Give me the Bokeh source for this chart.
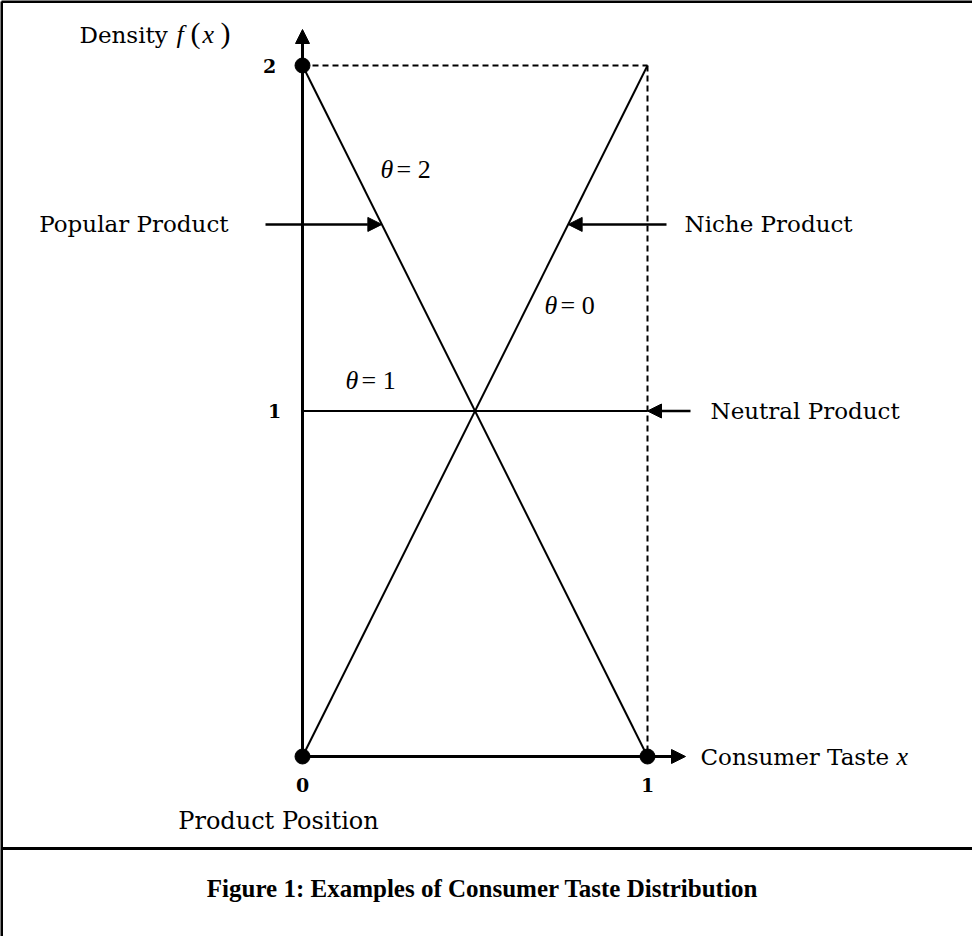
from bokeh.plotting import figure
from bokeh.models import Range1d, Arrow, NormalHead, ColumnDataSource
from bokeh.core.properties import value
from bokeh.embed import file_html
from bokeh.resources import INLINE

# ---------------- data ----------------
thetas = [0, 1, 2]
theta_labels = ["0", "1", "2"]
f_at_x0 = [0, 1, 2]          # density f(0) = theta
f_at_x1 = [2, 1, 0]          # density f(1) = 2 - theta
x_ticks = [0, 1]
x_tick_labels = ["0", "1"]
y_ticks = [1, 2]
y_tick_labels = ["1", "2"]
product_labels = ["Popular Product", "Niche Product", "Neutral Product"]
product_theta = [2, 0, 1]
arrow_level = [1.54, 1.54, 1.0]   # density level pointed at
dot_x = [0, 1, 0]
dot_y = [0, 0, 2]
x_axis_label = "Consumer Taste"
y_axis_label = "Density"
pos_label = "Product Position"
caption = "Figure 1: Examples of Consumer Taste Distribution"

# ---------------- layout helpers (page pixels -> data) ----------------
W, H = 972, 936
OX, OY = 310, 764          # page px of origin
SX, SY = 345.0, 345.5      # px per unit


def px2x(px):
    return (px - OX) / SX


def px2y(py):
    return (OY - py) / SY


SERIF = "DejaVu Serif"
TIMES = "Liberation Serif"
FS = "23px"

p = figure(width=W, height=H, output_backend="svg", toolbar_location=None,
           x_range=Range1d(px2x(8), px2x(8 + W)),
           y_range=Range1d(px2y(8 + H), px2y(8)),
           x_axis_location=None, y_axis_location=None, min_border=0)
p.grid.visible = False
p.outline_line_color = None
p.background_fill_color = "white"
p.border_fill_color = "white"

# frame border lines (top, left) and caption separator
p.segment(x0=[px2x(9), px2x(9), px2x(9)], y0=[px2y(9), px2y(9), px2y(856)],
          x1=[px2x(990), px2x(9), px2x(990)], y1=[px2y(9), px2y(950), px2y(856)],
          line_color="black", line_width=3)

# dashed bounding lines
ymax = max(y_ticks)
xmax = max(x_ticks)
p.segment(x0=[0, xmax], y0=[ymax, ymax], x1=[xmax, xmax], y1=[ymax, 0],
          line_color="black", line_width=2, line_dash="6 4")

# density lines
src = ColumnDataSource(dict(x0=[0] * len(thetas), y0=f_at_x0,
                            x1=[1] * len(thetas), y1=f_at_x1))
p.segment(x0="x0", y0="y0", x1="x1", y1="y1", source=src,
          line_color="black", line_width=2)

# axes with arrows
p.add_layout(Arrow(x_start=0, y_start=0, x_end=0, y_end=px2y(37),
                   line_width=3, line_color="black",
                   end=NormalHead(size=14, fill_color="black", line_color="black")))
p.add_layout(Arrow(x_start=0, y_start=0, x_end=px2x(693), y_end=0,
                   line_width=3, line_color="black",
                   end=NormalHead(size=14, fill_color="black", line_color="black")))

# dots
p.scatter(dot_x, dot_y, size=15, color="black")

# product arrows
starts_px = [273, 674, 698]
for lab, th, lvl, sp in zip(product_labels, product_theta, arrow_level, starts_px):
    f0 = f_at_x0[thetas.index(th)]
    f1 = f_at_x1[thetas.index(th)]
    tip_x = xmax if f1 == f0 else (lvl - f0) / (f1 - f0)
    p.add_layout(Arrow(x_start=px2x(sp), y_start=lvl, x_end=tip_x, y_end=lvl,
                       line_width=2.5, line_color="black",
                       end=NormalHead(size=14, fill_color="black", line_color="black")))

# product labels
p.text(x=[px2x(236), px2x(692), px2x(718)],
       y=[arrow_level[0], arrow_level[1], arrow_level[2]],
       text=product_labels, text_align=["right", "left", "left"],
       text_baseline="middle", text_font=value(SERIF), text_font_size=value(FS))

# theta labels
th_left_px = {2: (388, 177), 1: (353, 388), 0: (552, 313)}
tx = [px2x(th_left_px[t][0]) for t in thetas]
ty = [px2y(th_left_px[t][1]) for t in thetas]
p.text(x=tx, y=ty, text=["θ"] * 3, text_baseline="middle",
       text_font=value(TIMES), text_font_style="italic", text_font_size=value("26px"))
p.text(x=[v + 16 / SX for v in tx], y=ty, text=["= " + s for s in theta_labels],
       text_baseline="middle", text_font=value(TIMES), text_font_size=value("26px"))

# tick labels
p.text(x=[px2x(282), px2x(277)], y=y_ticks, text=y_tick_labels,
       text_align="center", text_baseline="middle",
       text_font=value(SERIF), text_font_style="bold", text_font_size=value("19px"))
p.text(x=x_ticks, y=[px2y(792)] * 2, text=x_tick_labels,
       text_align="center", text_baseline="middle",
       text_font=value(SERIF), text_font_style="bold", text_font_size=value("19px"))

# axis labels
p.text(x=[px2x(708)], y=[0], text=[x_axis_label], text_baseline="middle",
       text_font=value(SERIF), text_font_size=value(FS))
p.text(x=[px2x(904)], y=[0], text=["x"], text_baseline="middle",
       text_font=value(TIMES), text_font_style="italic", text_font_size=value("26px"))

p.text(x=[px2x(87)], y=[px2y(42)], text=[y_axis_label], text_baseline="middle",
       text_font=value(SERIF), text_font_size=value(FS))
p.text(x=[px2x(184)], y=[px2y(42)], text=["f"], text_baseline="middle",
       text_font=value(TIMES), text_font_style="italic", text_font_size=value("26px"))
p.text(x=[px2x(198), px2x(228)], y=[px2y(40)] * 2, text=["(", ")"], text_baseline="middle",
       text_font=value(TIMES), text_font_size=value("30px"))
p.text(x=[px2x(210)], y=[px2y(42)], text=["x"], text_baseline="middle",
       text_font=value(TIMES), text_font_style="italic", text_font_size=value("26px"))

p.text(x=[px2x(286)], y=[px2y(828)], text=[pos_label], text_align="center",
       text_baseline="middle", text_font=value(SERIF), text_font_size=value("24px"))

# caption
p.text(x=[px2x(490)], y=[px2y(896)], text=[caption], text_align="center",
       text_baseline="middle", text_font=value(TIMES), text_font_style="bold",
       text_font_size=value("25px"))

open("out.html", "w").write(file_html(p, INLINE))
